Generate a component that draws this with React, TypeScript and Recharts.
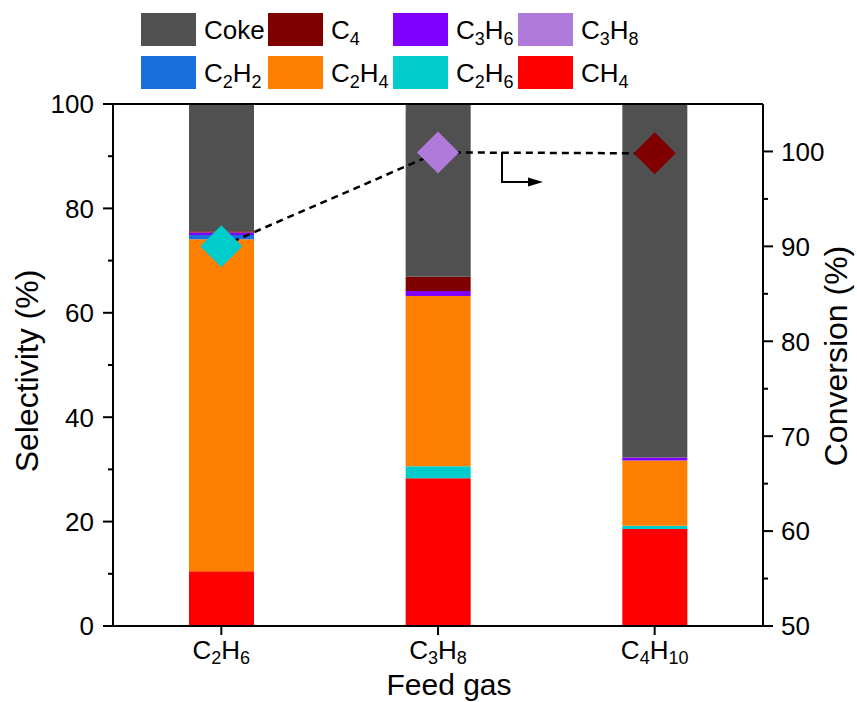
import React from 'react';
import {
  ComposedChart, Bar, Line, XAxis, YAxis, ReferenceLine, Customized,
} from 'recharts';

// feed gases and product selectivity (%) per feed
const feeds = ['C2H6', 'C3H8', 'C4H10'];
const ch4 = [10.5, 28.3, 18.6];
const c2h6 = [0, 2.3, 0.6];
const c2h4 = [63.6, 32.6, 12.5];
const c2h2 = [0.8, 0, 0];
const c3h6 = [0.5, 1.0, 0.6];
const c3h8 = [0, 0, 0];
const c4 = [0.2, 2.7, 0];
const coke = [24.4, 33.1, 67.7];
// feed conversion (%)
const conversion = [90.0, 99.9, 99.8];

const leftTicks = [0, 10, 20, 30, 40, 50, 60, 70, 80, 90, 100];
const rightTicks = [50, 55, 60, 65, 70, 75, 80, 85, 90, 95, 100];

const COLORS = {
  coke: '#505050', c4: '#800000', c3h6: '#8000FF', c3h8: '#B07ADB',
  c2h2: '#1A6FDF', c2h4: '#FF8000', c2h6: '#00CCCC', ch4: '#FF0000',
};
const dotColors = [COLORS.c2h6, COLORS.c3h8, COLORS.c4];

const FONT = '"Liberation Sans", Arial, Helvetica, sans-serif';

const data = feeds.map((f, i) => ({
  feed: f, ch4: ch4[i], c2h6: c2h6[i], c2h4: c2h4[i], c2h2: c2h2[i],
  c3h6: c3h6[i], c3h8: c3h8[i], c4: c4[i], coke: coke[i], conv: conversion[i],
}));

// "C2H6" -> C with subscript digits
function formula(s: string, size: number, sub: number, drop = 6) {
  const parts = s.match(/[A-Za-z]+|\d+/g) || [];
  let down = false;
  return parts.map((p, i) => {
    const isNum = /\d/.test(p);
    const dy = isNum && !down ? drop : !isNum && down ? -drop : 0;
    down = isNum;
    return (
      <tspan key={i} dy={dy} fontSize={isNum ? sub : size}>{p}</tspan>
    );
  });
}

const LeftTick = ({ x, y, payload }: any) => {
  const major = payload.value % 20 === 0;
  return (
    <g>
      <line x1={x} x2={x - (major ? 10 : 5)} y1={y} y2={y} stroke="#000" strokeWidth={2} />
      {major && (
        <text x={x - 19} y={y} dy="0.36em" textAnchor="end" fontSize={26} fontFamily={FONT} fill="#000">
          {payload.value}
        </text>
      )}
    </g>
  );
};

const RightTick = ({ x, y, payload }: any) => {
  const major = payload.value % 10 === 0;
  return (
    <g>
      <line x1={x} x2={x + (major ? 10 : 5)} y1={y} y2={y} stroke="#000" strokeWidth={2} />
      {major && (
        <text x={x + 18} y={y} dy="0.36em" textAnchor="start" fontSize={26} fontFamily={FONT} fill="#000">
          {payload.value}
        </text>
      )}
    </g>
  );
};

const BottomTick = ({ x, y, payload }: any) => (
  <g>
    <line x1={x} x2={x} y1={y} y2={y + 9} stroke="#000" strokeWidth={2} />
    <text x={x} y={y + 33} textAnchor="middle" fontSize={26} fontFamily={FONT} fill="#000">
      {formula(payload.value, 26, 18, 5)}
    </text>
  </g>
);

const Diamond = ({ cx, cy, index }: any) => {
  const r = 21;
  return (
    <path
      key={`d${index}`}
      d={`M${cx},${cy - r} L${cx + r},${cy} L${cx},${cy + r} L${cx - r},${cy} Z`}
      fill={dotColors[index]}
    />
  );
};

const legendItems = [
  { key: 'coke', label: 'Coke' }, { key: 'c4', label: 'C4' },
  { key: 'c3h6', label: 'C3H6' }, { key: 'c3h8', label: 'C3H8' },
  { key: 'c2h2', label: 'C2H2' }, { key: 'c2h4', label: 'C2H4' },
  { key: 'c2h6', label: 'C2H6' }, { key: 'ch4', label: 'CH4' },
];

const Overlay = () => {
  const colX = [141, 268, 393, 518];
  const rowY = [13, 56];
  return (
    <g fontFamily={FONT} fill="#000">
      {legendItems.map((it, i) => {
        const cx = colX[i % 4];
        const ry = rowY[Math.floor(i / 4)];
        return (
          <g key={it.key}>
            <rect x={cx} y={ry} width={55} height={33} fill={(COLORS as any)[it.key]} />
            <text x={cx + 63} y={ry + 26} fontSize={26}>
              {it.label === 'Coke' ? 'Coke' : formula(it.label, 26, 18)}
            </text>
          </g>
        );
      })}
      {/* arrow pointing to right axis */}
      <polyline points="502,152 502,182 530,182" fill="none" stroke="#000" strokeWidth={2} />
      <polygon points="528,177.5 543,182 528,186.5" fill="#000" />
      <text x={38} y={371} transform="rotate(-90 38 371)" textAnchor="middle" fontSize={32}>
        Selectivity (%)
      </text>
      <text x={847} y={356} transform="rotate(-90 847 356)" textAnchor="middle" fontSize={32}>
        Conversion (%)
      </text>
      <text x={449} y={695} textAnchor="middle" fontSize={30}>Feed gas</text>
    </g>
  );
};

export default function App() {
  const axisLine = { stroke: '#000', strokeWidth: 2 };
  return (
    <div style={{ position: 'absolute', left: 0, top: 0, background: '#fff' }}>
      <ComposedChart width={857} height={702} data={data} barCategoryGap={0}
        margin={{ top: 104, right: 0, bottom: 0, left: 0 }}>
        <XAxis dataKey="feed" height={76} axisLine={axisLine} tickLine={false}
          tickSize={0} tickMargin={0} tick={<BottomTick />} interval={0} />
        <YAxis yAxisId="left" domain={[0, 100]} ticks={leftTicks} width={113}
          axisLine={axisLine} tickLine={false} tickSize={0} tickMargin={0}
          tick={<LeftTick />} interval={0} allowDataOverflow />
        <YAxis yAxisId="right" orientation="right" domain={[50, 105]} ticks={rightTicks}
          width={94} axisLine={axisLine} tickLine={false} tickSize={0} tickMargin={0}
          tick={<RightTick />} interval={0} allowDataOverflow />
        <Bar yAxisId="left" dataKey="ch4" stackId="s" fill={COLORS.ch4} barSize={65} isAnimationActive={false} />
        <Bar yAxisId="left" dataKey="c2h6" stackId="s" fill={COLORS.c2h6} barSize={65} isAnimationActive={false} />
        <Bar yAxisId="left" dataKey="c2h4" stackId="s" fill={COLORS.c2h4} barSize={65} isAnimationActive={false} />
        <Bar yAxisId="left" dataKey="c2h2" stackId="s" fill={COLORS.c2h2} barSize={65} isAnimationActive={false} />
        <Bar yAxisId="left" dataKey="c3h6" stackId="s" fill={COLORS.c3h6} barSize={65} isAnimationActive={false} />
        <Bar yAxisId="left" dataKey="c3h8" stackId="s" fill={COLORS.c3h8} barSize={65} isAnimationActive={false} />
        <Bar yAxisId="left" dataKey="c4" stackId="s" fill={COLORS.c4} barSize={65} isAnimationActive={false} />
        <Bar yAxisId="left" dataKey="coke" stackId="s" fill={COLORS.coke} barSize={65} isAnimationActive={false} />
        <ReferenceLine yAxisId="left" y={100} stroke="#000" strokeWidth={2} />
        <Line yAxisId="right" dataKey="conv" type="linear" stroke="#000" strokeWidth={2.5}
          strokeDasharray="7 5" dot={<Diamond />} activeDot={false} isAnimationActive={false} />
        <Customized component={Overlay} />
      </ComposedChart>
    </div>
  );
}
